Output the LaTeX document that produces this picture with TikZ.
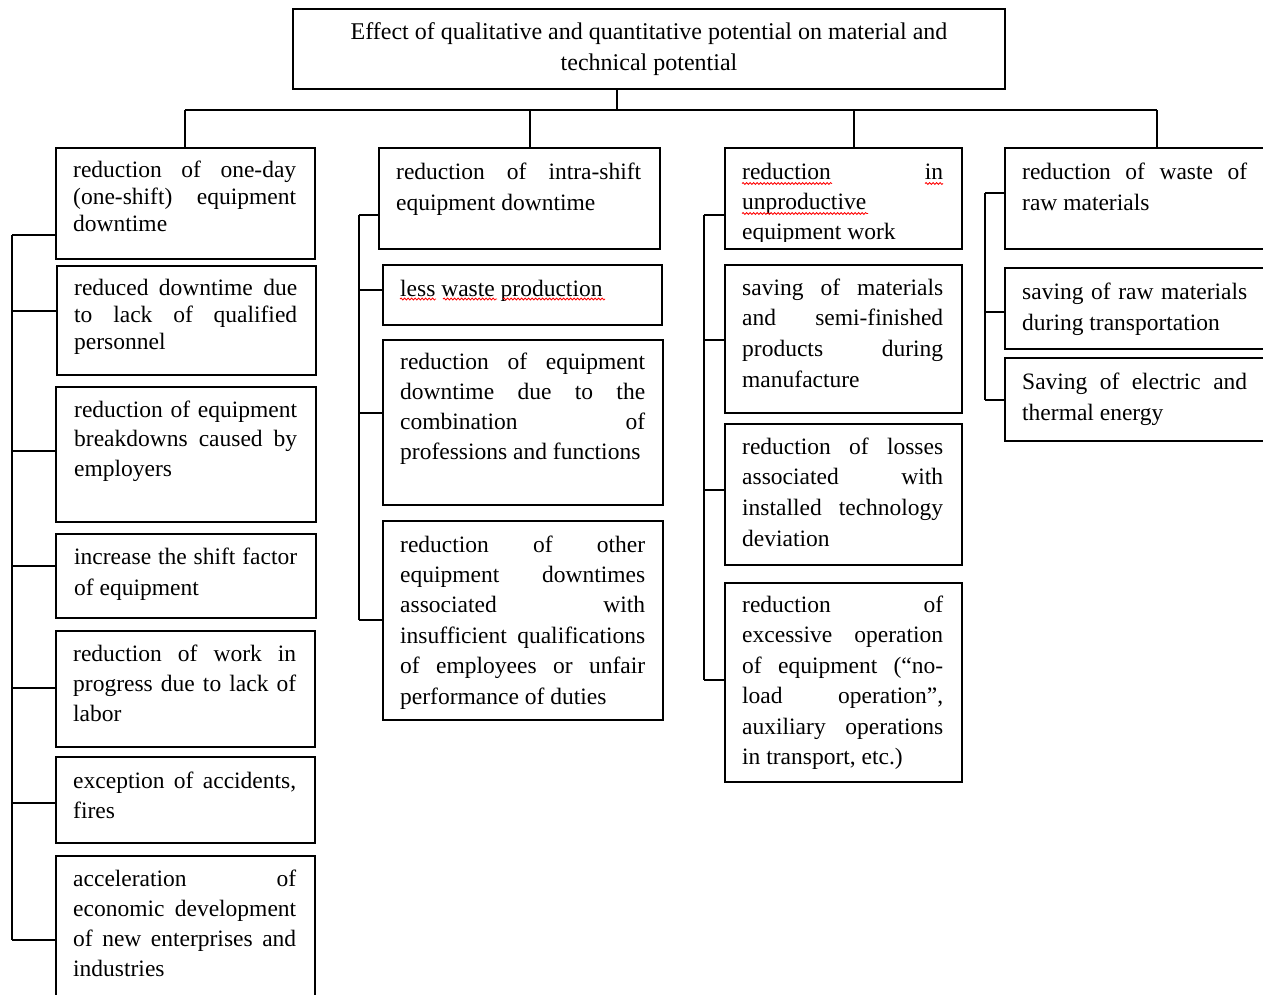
\documentclass[tikz,border=0pt]{standalone}
\usepackage{fontspec}
\setmainfont{Liberation Serif}
\usetikzlibrary{decorations.pathmorphing}
\tikzset{
  box/.style={draw, line width=1.3pt, inner sep=0pt, rectangle},
  txt/.style={anchor=base west, inner sep=0pt, align=justify,
    font={\fontsize{23.5}{#1}\selectfont\tolerance=10000\hbadness=10000\hyphenpenalty=10000\exhyphenpenalty=10000}},
  conn/.style={line width=1.3pt},
  wavy/.style={draw=red, line width=0.8pt, decorate, decoration={snake, amplitude=1pt, segment length=3.5pt}}
}
\newcommand\mkbox[5]{\node[box, minimum width={(#4-#2)*1pt}, minimum height={(#5-#3)*1pt}] (#1) at ({(#2+#4)/2},{(#3+#5)/2}) {};}
\begin{document}
\begin{tikzpicture}[x=1pt,y=-1pt]
\useasboundingbox[fill=white] (0,0) rectangle (1263,994);

% title
\node[box, minimum width=712pt, minimum height=80pt, align=center, font={\fontsize{24}{31}\selectfont}] (title) at (649,49)
  {Effect of qualitative and quantitative potential on material and\\technical potential};

% column 1
\mkbox{a1}{56}{148}{315}{259}
\mkbox{a2}{57}{266}{316}{375}
\mkbox{a3}{56}{387}{316}{522}
\mkbox{a4}{56}{534}{316}{618}
\mkbox{a5}{56}{631}{315}{747}
\mkbox{a6}{56}{757}{315}{843}
\mkbox{a7}{56}{856}{315}{1000}
\node[txt=27, text width=223pt] (a1t) at (73,177) {reduction of one-day\linebreak (one-shift) equipment\linebreak downtime};
\node[txt=27, text width=223pt] (a2t) at (74,295) {reduced downtime due\linebreak to lack of qualified\linebreak personnel};
\node[txt=29.5, text width=223pt] (a3t) at (74,417) {reduction of equipment\linebreak breakdowns caused by\linebreak employers};
\node[txt=31, text width=223pt] (a4t) at (74,564) {increase the shift factor\linebreak of equipment};
\node[txt=30, text width=223pt] (a5t) at (73,661) {reduction of work in\linebreak progress due to lack of\linebreak labor};
\node[txt=30, text width=223pt] (a6t) at (73,788) {exception of accidents,\linebreak fires};
\node[txt=30.3, text width=223pt] (a7t) at (73,886) {acceleration of\linebreak economic development\linebreak of new enterprises and\linebreak industries};

% column 2
\mkbox{b1}{379}{148}{660}{249}
\mkbox{b2}{383}{265}{662}{325}
\mkbox{b3}{383}{340}{663}{505}
\mkbox{b4}{383}{521}{663}{720}
\node[txt=31, text width=245pt] (b1t) at (396,179) {reduction of intra-shift\linebreak equipment downtime};
\node[txt=31, text width=245pt] (b2t) at (400,296) {less waste production};
\node[txt=30.3, text width=245pt] (b3t) at (400,369) {reduction of equipment\linebreak downtime due to the\linebreak combination of\linebreak professions and functions};
\node[txt=30.4, text width=245pt] (b4t) at (400,552) {reduction of other\linebreak equipment downtimes\linebreak associated with\linebreak insufficient qualifications\linebreak of employees or unfair\linebreak performance of duties};

% column 3
\mkbox{c1}{725}{148}{962}{249}
\mkbox{c2}{725}{265}{962}{413}
\mkbox{c3}{725}{424}{962}{565}
\mkbox{c4}{725}{583}{962}{782}
\begin{scope}
\clip (725,148) rectangle (962,241);
\node[txt=30, text width=201pt] (c1t) at (742,179) {reduction in\linebreak unproductive\linebreak equipment work};
\end{scope}
\node[txt=30.7, text width=201pt] (c2t) at (742,295) {saving of materials\linebreak and semi-finished\linebreak products during\linebreak manufacture};
\node[txt=30.7, text width=201pt] (c3t) at (742,454) {reduction of losses\linebreak associated with\linebreak installed technology\linebreak deviation};
\node[txt=30.5, text width=201pt] (c4t) at (742,612) {reduction of\linebreak excessive operation\linebreak of equipment (“no-\linebreak load operation”,\linebreak auxiliary operations\linebreak in transport, etc.)};

% column 4
\mkbox{d1}{1005}{148}{1270}{249}
\mkbox{d2}{1005}{268}{1270}{349}
\mkbox{d3}{1005}{358}{1270}{441}
\node[txt=31, text width=225pt] (d1t) at (1022,179) {reduction of waste of\linebreak raw materials};
\node[txt=31, text width=225pt] (d2t) at (1022,299) {saving of raw materials\linebreak during transportation};
\node[txt=31, text width=225pt] (d3t) at (1022,389) {Saving of electric and\linebreak thermal energy};

% spell-check underlines
\draw[wavy] (400,299) -- (436,299);
\draw[wavy] (443,299) -- (497,299);
\draw[wavy] (503,299) -- (605,299);
\draw[wavy] (742,183.5) -- (832,183.5);
\draw[wavy] (925,183.5) -- (943,183.5);
\draw[wavy] (742,213.5) -- (868,213.5);

% top connectors
\coordinate (hub) at (617,110);
\coordinate (h1) at (185,110);
\coordinate (h2) at (530,110);
\coordinate (h3) at (854,110);
\coordinate (h4) at (1157,110);
\draw[conn] (title.south -| hub) -- (hub);
\draw[conn] (h1) -- (h4);
\draw[conn] (h1) -- (h1 |- a1.north);
\draw[conn] (h2) -- (h2 |- b1.north);
\draw[conn] (h3) -- (h3 |- c1.north);
\draw[conn] (h4) -- (h4 |- d1.north);

% column 1 spine
\coordinate (s1a) at (12,235);
\coordinate (s1b) at (12,311);
\coordinate (s1c) at (12,451);
\coordinate (s1d) at (12,566);
\coordinate (s1e) at (12,688);
\coordinate (s1f) at (12,803);
\coordinate (s1g) at (12,940);
\draw[conn] (s1a) -- (s1g);
\draw[conn] (s1a) -- (a1.west |- s1a);
\draw[conn] (s1b) -- (a2.west |- s1b);
\draw[conn] (s1c) -- (a3.west |- s1c);
\draw[conn] (s1d) -- (a4.west |- s1d);
\draw[conn] (s1e) -- (a5.west |- s1e);
\draw[conn] (s1f) -- (a6.west |- s1f);
\draw[conn] (s1g) -- (a7.west |- s1g);

% column 2 spine
\coordinate (s2a) at (359,215);
\coordinate (s2b) at (359,290);
\coordinate (s2c) at (359,413);
\coordinate (s2d) at (359,620);
\draw[conn] (s2a) -- (s2d);
\draw[conn] (s2a) -- (b1.west |- s2a);
\draw[conn] (s2b) -- (b2.west |- s2b);
\draw[conn] (s2c) -- (b3.west |- s2c);
\draw[conn] (s2d) -- (b4.west |- s2d);

% column 3 spine
\coordinate (s3a) at (704,215);
\coordinate (s3b) at (704,340);
\coordinate (s3c) at (704,490);
\coordinate (s3d) at (704,680);
\draw[conn] (s3a) -- (s3d);
\draw[conn] (s3a) -- (c1.west |- s3a);
\draw[conn] (s3b) -- (c2.west |- s3b);
\draw[conn] (s3c) -- (c3.west |- s3c);
\draw[conn] (s3d) -- (c4.west |- s3d);

% column 4 spine
\coordinate (s4a) at (985,193);
\coordinate (s4b) at (985,312);
\coordinate (s4c) at (985,400);
\draw[conn] (s4a) -- (s4c);
\draw[conn] (s4a) -- (d1.west |- s4a);
\draw[conn] (s4b) -- (d2.west |- s4b);
\draw[conn] (s4c) -- (d3.west |- s4c);
\end{tikzpicture}
\end{document}
